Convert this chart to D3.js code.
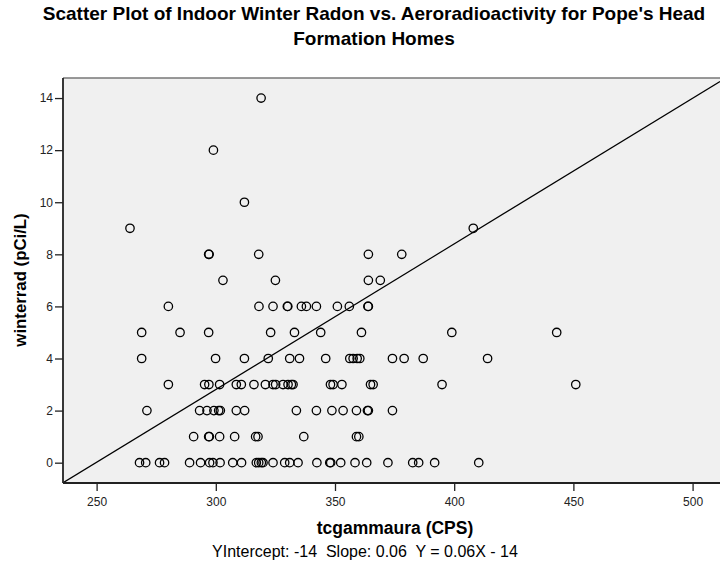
<!DOCTYPE html>
<html>
<head>
<meta charset="utf-8">
<script src="https://cdn.jsdelivr.net/npm/d3@7"></script>
<style>
	body { margin:0; background:#fff; }
	svg { display:block; font-family:Arial, "Liberation Sans", sans-serif; }
	.tick text { fill:#222; font-size:12px; }
</style>
</head>
<body>
<svg id="chart" width="720" height="563"></svg>
<script>
"use strict";

// winterrad (pCi/L) for each home, and the tcgammaura (CPS)
var radon_levels = [0, 1, 2, 3, 4, 5, 6, 7, 8, 9, 10, 12, 14];
var gamma_by_level = [
	[268, 270.6, 276.4, 278.5, 289, 293.6, 297.4, 298.8, 301.8, 307.1, 310.8, 317, 318, 319.1, 319.8,
	 324, 328.9, 331, 334.5, 342.4, 347.8, 348.2, 352.4, 358.4, 363.3, 372.2, 382.6, 385.1, 391.8, 410.3],
	[290.7, 297, 297.3, 301.6, 307.9, 316.7, 317.7, 336.9, 359, 360],
	[271.1, 293.2, 296.3, 299.2, 301.2, 301.9, 308.6, 312.1, 333.8, 342.2, 348.7, 353.4, 359, 363.6, 364, 374.1],
	[280.1, 295.3, 297.1, 301.6, 308.6, 310.7, 316, 320.8, 324, 325.1, 328.2, 330.3, 331.7, 332.4, 348.1,
	 349.2, 352.9, 364.9, 366, 394.9, 451],
	[268.9, 299.9, 312, 322, 331, 335.1, 346.1, 356.2, 357.6, 359.3, 360.4, 374.1, 379, 387, 414],
	[268.9, 285, 297, 323, 333, 344, 361.1, 399, 443],
	[280.1, 318.1, 324, 330, 330.2, 335.9, 338, 342.2, 351, 356, 363.8, 364],
	[303, 325, 364, 369],
	[297, 297.2, 318, 364, 378],
	[264, 408],
	[312],
	[299],
	[319]
];
var x_ticks = [250, 300, 350, 400, 450, 500];
var y_ticks = [0, 2, 4, 6, 8, 10, 12, 14];
var fit_intercept = -13.96, fit_slope = 0.0559;

function draw_chart()
{
	var points = [];
	radon_levels.forEach(function(r, i){
		gamma_by_level[i].forEach(function(g){ points.push({ gamma:g, radon:r }); });
	});

	var svg = d3.select('#chart');
	var pl = 63, pt = 78, pr = 720, pb = 483;

	var x = d3.scaleLinear().domain([235.9, 511.5]).range([pl, pr]);
	var y = d3.scaleLinear().domain([-0.78, 14.77]).range([pb, pt]);

	//*-*-*-*-*-*-*-*-*-*-*-*-*-*-*-*-*-*
	//	title
	//*-*-*-*-*-*-*-*-*-*-*-*-*-*-*-*-*-*
	var title = svg.append('text')
		.attr('text-anchor','middle')
		.style('font-size','19px').style('font-weight','bold');
	title.append('tspan').attr('x',374).attr('y',20)
		.text("Scatter Plot of Indoor Winter Radon vs. Aeroradioactivity for Pope's Head");
	title.append('tspan').attr('x',374).attr('y',45).text('Formation Homes');

	//*-*-*-*-*-*-*-*-*-*-*-*-*-*-*-*-*-*
	//	plot area
	//*-*-*-*-*-*-*-*-*-*-*-*-*-*-*-*-*-*
	svg.append('rect')
		.attr('x',pl).attr('y',pt)
		.attr('width',pr-pl).attr('height',pb-pt)
		.attr('fill','#f0f0f0');
	svg.append('line')
		.attr('x1',pl).attr('y1',pt).attr('x2',pr).attr('y2',pt)
		.attr('stroke','#777').attr('stroke-width',1.5);

	svg.append('clipPath').attr('id','clip')
		.append('rect').attr('x',pl).attr('y',pt)
		.attr('width',pr-pl).attr('height',pb-pt);

	// regression line
	var x0 = x.domain()[0], x1 = x.domain()[1];
	svg.append('line')
		.attr('clip-path','url(#clip)')
		.attr('x1',x(x0)).attr('y1',y(fit_intercept + fit_slope*x0))
		.attr('x2',x(x1)).attr('y2',y(fit_intercept + fit_slope*x1))
		.attr('stroke','#000').attr('stroke-width',1.2);

	// points
	svg.append('g').attr('clip-path','url(#clip)')
		.selectAll('circle')
		.data(points).enter()
		.append('circle')
			.attr('cx',function(d){ return x(d.gamma); })
			.attr('cy',function(d){ return y(d.radon); })
			.attr('r',4.2)
			.attr('fill','none')
			.attr('stroke','#000')
			.attr('stroke-width',1.3);

	//*-*-*-*-*-*-*-*-*-*-*-*-*-*-*-*-*-*
	//	axes
	//*-*-*-*-*-*-*-*-*-*-*-*-*-*-*-*-*-*
	var xAxis = svg.append('g')
		.attr('transform','translate(0,' + pb + ')')
		.call(d3.axisBottom(x).tickValues(x_ticks).tickSize(8).tickPadding(6));
	var yAxis = svg.append('g')
		.attr('transform','translate(' + pl + ',0)')
		.call(d3.axisLeft(y).tickValues(y_ticks).tickSize(8).tickPadding(2));

	[xAxis, yAxis].forEach(function(a){
		a.select('.domain').remove();
		a.selectAll('.tick line').attr('stroke','#222').attr('stroke-width',1.3);
		a.selectAll('.tick text').attr('font-family',null).attr('font-size',null);
	});
	svg.append('line')
		.attr('x1',pl).attr('y1',pb).attr('x2',pr).attr('y2',pb)
		.attr('stroke','#222').attr('stroke-width',1.8);
	svg.append('line')
		.attr('x1',pl).attr('y1',pt).attr('x2',pl).attr('y2',pb)
		.attr('stroke','#222').attr('stroke-width',1.8);

	//*-*-*-*-*-*-*-*-*-*-*-*-*-*-*-*-*-*
	//	axis labels and note
	//*-*-*-*-*-*-*-*-*-*-*-*-*-*-*-*-*-*
	svg.append('text')
		.attr('x',395).attr('y',534)
		.attr('text-anchor','middle')
		.style('font-size','17.5px').style('font-weight','bold')
		.text('tcgammaura (CPS)');
	svg.append('text')
		.attr('transform','translate(26,280) rotate(-90)')
		.attr('text-anchor','middle')
		.style('font-size','16.8px').style('font-weight','bold')
		.text('winterrad (pCi/L)');
	svg.append('text')
		.attr('x',365).attr('y',557)
		.attr('text-anchor','middle')
		.style('font-size','16px')
		.style('white-space','pre')
		.text('YIntercept: -14  Slope: 0.06  Y = 0.06X - 14');
}
draw_chart();
</script>
</body>
</html>
